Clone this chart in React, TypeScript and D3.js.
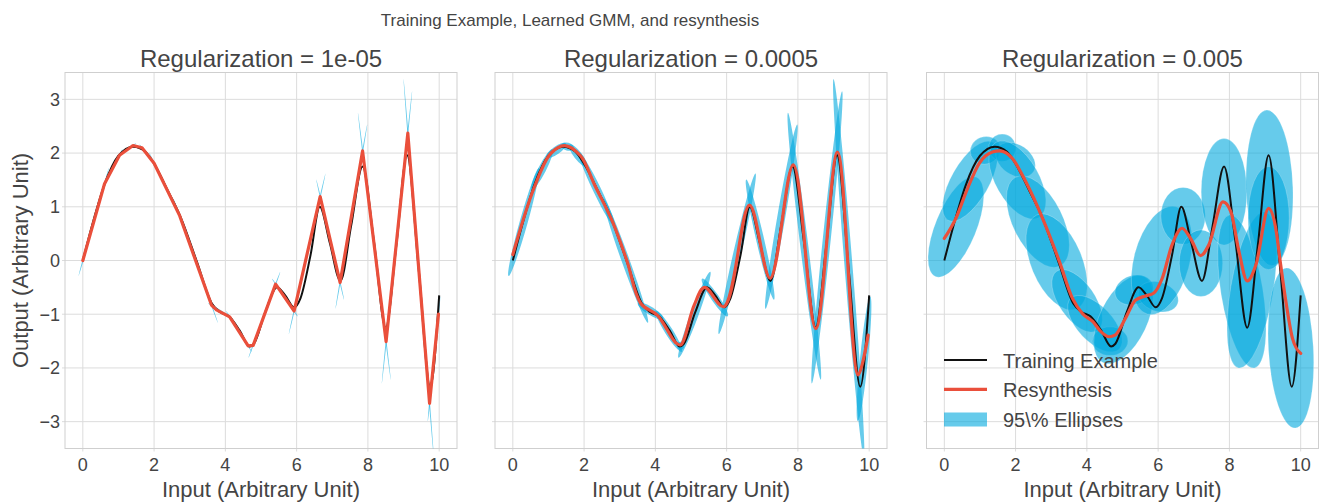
import React from 'react';
import * as d3 from 'd3';

// ---------- data ----------
const xTicks = [0, 2, 4, 6, 8, 10];
const yTicks = [-3, -2, -1, 0, 1, 2, 3];
const panelTitles = ['Regularization = 1e-05', 'Regularization = 0.0005', 'Regularization = 0.005'];
const suptitle = 'Training Example, Learned GMM, and resynthesis';
const legendLabels = ['Training Example', 'Resynthesis', '95\\% Ellipses'];

// training example (black)
const training: [number, number][] = [
  [0, 0], [0.3, 0.75], [0.6, 1.4], [1.0, 1.95], [1.42, 2.12], [1.75, 2.03], [2.0, 1.8],
  [2.4, 1.28], [2.75, 0.8], [3.2, -0.02], [3.62, -0.8], [3.85, -0.96], [4.1, -1.04],
  [4.4, -1.3], [4.68, -1.6], [4.8, -1.55], [5.12, -0.96], [5.45, -0.5], [5.69, -0.66],
  [5.93, -0.87], [6.11, -0.7], [6.39, 0.1], [6.65, 1.0], [6.93, 0.33], [7.23, -0.38],
  [7.53, 0.65], [7.85, 1.75], [8.17, 0.35], [8.5, -1.25], [8.8, 0.3], [9.1, 1.96],
  [9.43, -0.2], [9.75, -2.35], [10, -0.65],
];

// resynthesis, reg = 1e-05
const resynth1: [number, number][] = [
  [0, 0], [0.61, 1.43], [1.03, 1.96], [1.41, 2.14], [1.66, 2.1], [2.0, 1.81], [2.72, 0.83],
  [3.61, -0.83], [3.75, -0.92], [4.12, -1.05], [4.64, -1.59], [4.78, -1.58], [5.41, -0.44],
  [5.93, -0.94], [6.66, 1.19], [7.22, -0.41], [7.85, 2.04], [8.51, -1.51], [9.12, 2.37],
  [9.73, -2.66], [9.98, -1.0],
];

// resynthesis, reg = 0.0005
const resynth2: [number, number][] = [
  [0, 0.11], [0.59, 1.34], [1.06, 1.99], [1.45, 2.14], [1.9, 1.95], [2.3, 1.4], [2.8, 0.72],
  [3.2, 0.0], [3.59, -0.8], [4.06, -1.02], [4.57, -1.53], [4.71, -1.57], [5.09, -0.83], [5.38, -0.5],
  [5.92, -0.86], [6.64, 1.03], [7.22, -0.33], [7.87, 1.78], [8.5, -1.27], [9.11, 2.02],
  [9.69, -2.13], [9.97, -1.39],
];

// resynthesis, reg = 0.005
const resynth3: [number, number][] = [
  [0, 0.41], [0.32, 0.78], [0.65, 1.34], [0.98, 1.81], [1.35, 2.02], [1.55, 2.04], [1.91, 1.9],
  [2.29, 1.46], [2.76, 0.78], [3.23, -0.02], [3.6, -0.71], [3.88, -0.99], [4.17, -1.14],
  [4.4, -1.33], [4.63, -1.42], [4.79, -1.39], [5.08, -1.08], [5.36, -0.74], [5.64, -0.66],
  [5.87, -0.61], [6.11, -0.34], [6.39, 0.29], [6.67, 0.6], [6.91, 0.41], [7.19, 0.09],
  [7.42, 0.29], [7.82, 1.09], [8.04, 0.91], [8.27, 0.16], [8.5, -0.38], [8.74, -0.09],
  [9.1, 0.97], [9.3, 0.6], [9.44, -0.09], [9.6, -0.83], [9.77, -1.45], [10.0, -1.73],
];

// 95% ellipses for reg 1e-05 / 0.0005: major-axis end points [x1, y1, x2, y2]
const needleEllipses: [number, number, number, number][] = [
  [-0.12, -0.29, 0.73, 1.72], [0.53, 1.32, 1.11, 2.07], [0.95, 1.92, 1.49, 2.18],
  [1.36, 2.15, 1.71, 2.09], [1.59, 2.16, 2.07, 1.75], [1.86, 2.01, 2.86, 0.63],
  [2.54, 1.16, 3.79, -1.16], [3.51, -0.79, 4.22, -1.09], [4.02, -0.94, 4.74, -1.7],
  [4.61, -1.59, 4.81, -1.58], [4.65, -1.81, 5.54, -0.21], [5.31, -0.34, 6.03, -1.04],
  [5.78, -1.37, 6.81, 1.62], [6.55, 1.51, 7.33, -0.73], [7.09, -0.9, 7.98, 2.53],
  [7.72, 2.75, 8.64, -2.22], [8.39, -2.29, 9.24, 3.15], [9.0, 3.38, 9.85, -3.67],
  [9.68, -2.99, 10.03, -0.67],
];

// 95% ellipses for reg 0.005: [x1, y1, x2, y2, minor/major]
const wideEllipses: [number, number, number, number, number][] = [
  [-0.25, -0.3, 0.9, 1.55, 0.38], [0.1, 0.75, 1.35, 2.2, 0.42], [0.75, 1.95, 1.55, 2.15, 0.9],
  [1.25, 2.15, 2.0, 2.05, 1.0], [1.5, 2.1, 2.5, 1.65, 0.7], [1.45, 2.2, 2.65, 0.8, 0.5],
  [2.0, 1.55, 3.25, -0.1, 0.5], [2.6, 0.85, 3.7, -0.9, 0.5], [3.15, -0.2, 4.3, -1.3, 0.5],
  [3.55, -0.7, 4.9, -1.65, 0.5], [4.15, -1.5, 5.15, -1.5, 0.8], [4.45, -1.9, 5.6, -0.3, 0.5],
  [4.8, -0.65, 5.85, -0.45, 0.75], [5.45, -0.55, 6.55, -0.8, 0.7], [5.7, -1.0, 6.5, 1.0, 0.5],
  [6.7, 0.3, 6.7, 1.36, 0.78], [7.2, 0.57, 7.2, -0.67, 0.65], [7.85, 2.27, 7.85, 0.29, 0.43],
  [8.0, 0.85, 8.7, -2.0, 0.27], [8.26, -2.0, 9.0, 0.9, 0.27], [9.05, 2.8, 9.2, -0.1, 0.3],
  [9.1, 1.75, 9.1, -0.17, 0.4], [9.6, -0.14, 9.85, -3.12, 0.28],
];

// ---------- style / layout ----------
const W = 1324, H = 502;
const FONT = '"Liberation Sans", Arial, Helvetica, sans-serif';
const TEXT = '#444444';
const GRID = '#dcdcdc';
const FRAME = '#cfcfcf';
const RED = '#ea4f3b';
const ELL = '#00a8de';
const ELL_OP = 0.6;
const panelLefts = [65, 495, 926.5];
const PW = 392, PT = 72.5, PH = 376;

type Pt = [number, number];

function Panel({ idx }: { idx: number }) {
  const left = panelLefts[idx];
  const x = d3.scaleLinear().domain([-0.5, 10.5]).range([left, left + PW]);
  const y = d3.scaleLinear().domain([-3.5, 3.5]).range([PT + PH, PT]);
  const clipId = `clip${idx}`;

  const lineLin = d3.line<Pt>().x(d => x(d[0])).y(d => y(d[1])).curve(d3.curveLinear);
  const lineMono = d3.line<Pt>().x(d => x(d[0])).y(d => y(d[1])).curve(d3.curveMonotoneX);
  const lineCR = d3.line<Pt>().x(d => x(d[0])).y(d => y(d[1])).curve(d3.curveCatmullRom.alpha(0.5));

  const resynth = idx === 0 ? lineLin(resynth1) : idx === 1 ? lineCR(resynth2) : lineMono(resynth3);

  const ellipse = (x1: number, y1: number, x2: number, y2: number, ry: number | null, aspect: number, k: number) => {
    const px1 = x(x1), py1 = y(y1), px2 = x(x2), py2 = y(y2);
    const cx = (px1 + px2) / 2, cy = (py1 + py2) / 2;
    const L = Math.hypot(px2 - px1, py2 - py1);
    const ang = (Math.atan2(py2 - py1, px2 - px1) * 180) / Math.PI;
    const rx = L / 2;
    const r2 = ry !== null ? ry : rx * aspect;
    return (
      <ellipse key={k} cx={cx} cy={cy} rx={rx} ry={r2}
        transform={`rotate(${ang} ${cx} ${cy})`}
        fill={ELL} fillOpacity={ELL_OP}
        stroke={idx === 2 ? '#ffffff' : 'none'} strokeOpacity={0.35} strokeWidth={0.6} />
    );
  };

  let ells: React.ReactNode[] = [];
  if (idx === 0) ells = needleEllipses.map((e, i) => ellipse(e[0], e[1], e[2], e[3], 0.75, 0, i));
  else if (idx === 1) ells = needleEllipses.map((e, i) => ellipse(e[0], e[1], e[2], e[3], 4, 0, i));
  else ells = wideEllipses.map((e, i) => ellipse(e[0], e[1], e[2], e[3], null, e[4], i));

  return (
    <g>
      <defs>
        <clipPath id={clipId}>
          <rect x={left} y={PT} width={PW} height={PH} />
        </clipPath>
      </defs>
      {xTicks.map(t => (
        <line key={'gx' + t} x1={x(t)} x2={x(t)} y1={PT} y2={PT + PH + 3} stroke={GRID} strokeWidth={1} />
      ))}
      {yTicks.map(t => (
        <line key={'gy' + t} x1={left - 3} x2={left + PW} y1={y(t)} y2={y(t)} stroke={GRID} strokeWidth={1} />
      ))}
      <rect x={left} y={PT} width={PW} height={PH} fill="none" stroke={FRAME} strokeWidth={1} />
      <g clipPath={`url(#${clipId})`}>
        {ells}
        <path d={lineMono(training) || ''} fill="none" stroke="#111111" strokeWidth={2} strokeLinejoin="round" />
        <path d={resynth || ''} fill="none" stroke={RED} strokeWidth={3.2} strokeLinejoin="round" strokeLinecap="round" />
      </g>
      {xTicks.map(t => (
        <text key={'tx' + t} x={x(t)} y={470.5} textAnchor="middle" fontSize={18} fill={TEXT} fontFamily={FONT}>
          {t}
        </text>
      ))}
      {idx === 0 && yTicks.map(t => (
        <text key={'ty' + t} x={left - 5} y={y(t) + 6.4} textAnchor="end" fontSize={18} fill={TEXT} fontFamily={FONT}>
          {t < 0 ? '\u2212' + Math.abs(t) : String(t)}
        </text>
      ))}
      <text x={left + PW / 2} y={67.3} textAnchor="middle" fontSize={24} fill={TEXT} fontFamily={FONT}>
        {panelTitles[idx]}
      </text>
      <text x={left + PW / 2} y={496.5} textAnchor="middle" fontSize={22} fill={TEXT} fontFamily={FONT}>
        Input (Arbitrary Unit)
      </text>
      {idx === 2 && (
        <g fontFamily={FONT} fontSize={20} fill={TEXT}>
          <line x1={944} x2={987} y1={360} y2={360} stroke="#111111" strokeWidth={2} />
          <text x={1003} y={368}>{legendLabels[0]}</text>
          <line x1={944} x2={987} y1={389.3} y2={389.3} stroke={RED} strokeWidth={3.2} />
          <text x={1003} y={397.3}>{legendLabels[1]}</text>
          <rect x={944} y={412.5} width={43} height={14} fill={ELL} fillOpacity={ELL_OP} />
          <text x={1003} y={427}>{legendLabels[2]}</text>
        </g>
      )}
    </g>
  );
}

export default function App() {
  return (
    <svg width={W} height={H} viewBox={`0 0 ${W} ${H}`}
      style={{ position: 'absolute', left: 0, top: 0, display: 'block', background: '#fff' }}>
      <rect x={0} y={0} width={W} height={H} fill="#ffffff" />
      <text x={570} y={26} textAnchor="middle" fontSize={17} fill={TEXT} fontFamily={FONT}>{suptitle}</text>
      <text transform={`translate(27.5, ${PT + PH / 2}) rotate(-90)`} textAnchor="middle" fontSize={22} fill={TEXT} fontFamily={FONT}>
        Output (Arbitrary Unit)
      </text>
      {[0, 1, 2].map(i => <Panel key={i} idx={i} />)}
    </svg>
  );
}
